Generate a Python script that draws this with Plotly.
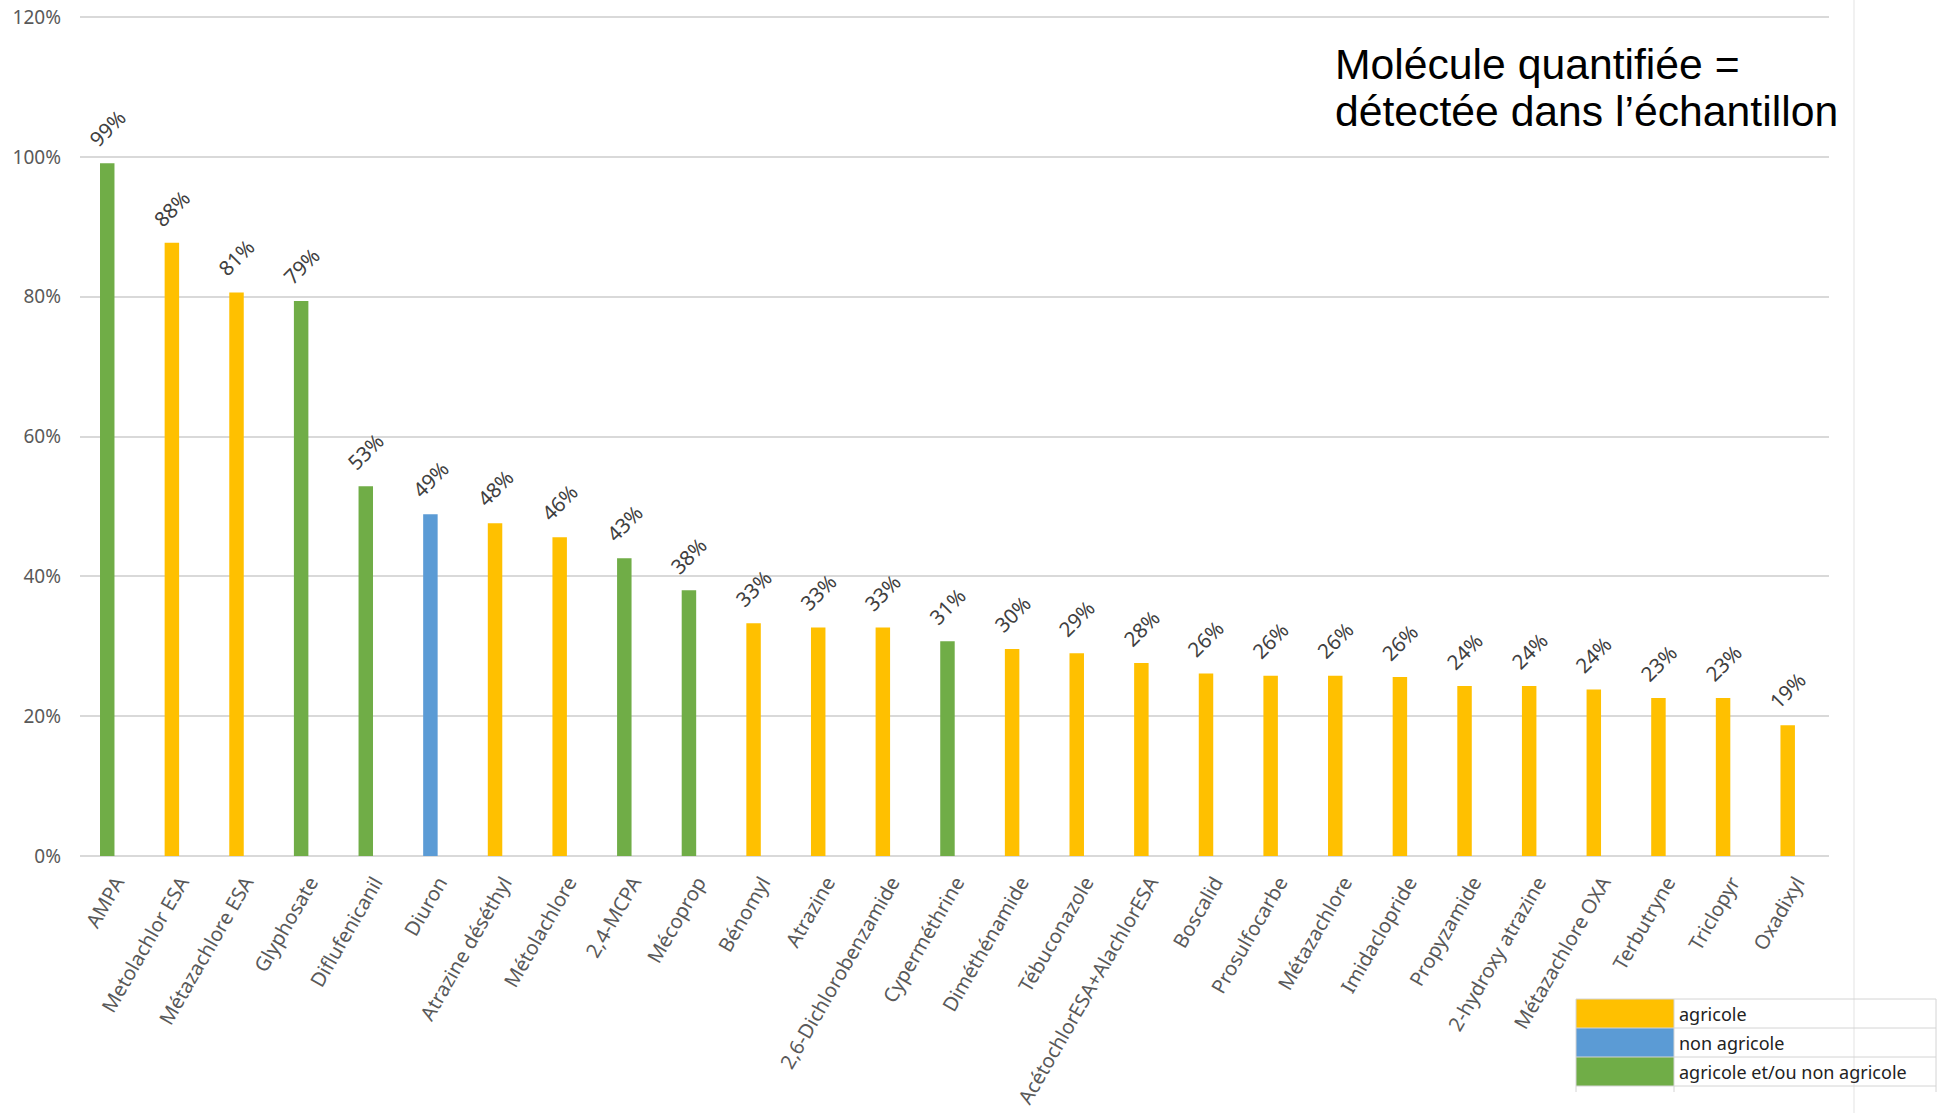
import plotly.graph_objects as go

# ---- data ----
categories = ["AMPA", "Metolachlor ESA", "Métazachlore ESA", "Glyphosate", "Diflufenicanil",
              "Diuron", "Atrazine déséthyl", "Métolachlore", "2,4-MCPA", "Mécoprop",
              "Bénomyl", "Atrazine", "2,6-Dichlorobenzamide", "Cyperméthrine", "Diméthénamide",
              "Tébuconazole", "AcétochlorESA+AlachlorESA", "Boscalid", "Prosulfocarbe", "Métazachlore",
              "Imidaclopride", "Propyzamide", "2-hydroxy atrazine", "Métazachlore OXA", "Terbutryne",
              "Triclopyr", "Oxadixyl"]
values = [0.991, 0.877, 0.806, 0.794, 0.529, 0.489, 0.476, 0.456, 0.426, 0.380,
          0.333, 0.327, 0.327, 0.307, 0.296, 0.290, 0.276, 0.261, 0.258, 0.258,
          0.256, 0.243, 0.243, 0.238, 0.226, 0.226, 0.187]
groups = ["mixte", "agricole", "agricole", "mixte", "mixte",
          "non agricole", "agricole", "agricole", "mixte", "mixte",
          "agricole", "agricole", "agricole", "mixte", "agricole",
          "agricole", "agricole", "agricole", "agricole", "agricole",
          "agricole", "agricole", "agricole", "agricole", "agricole",
          "agricole", "agricole"]
legend_keys = ["agricole", "non agricole", "mixte"]
legend_labels = ["agricole", "non agricole", "agricole et/ou non agricole"]
group_colors = {"agricole": "#FFC000", "non agricole": "#5B9BD5", "mixte": "#70AD47"}
y_ticks = [0, 0.2, 0.4, 0.6, 0.8, 1.0, 1.2]
y_max = 1.2015
title_lines = ["Molécule quantifiée =", "détectée dans l’échantillon"]

# ---- geometry helpers (layout only; body margin removed in the page) ----
W, H = 1938, 1113
ML, MR, MT, MB = 80, 109, 16, 257
PW, PH = W - ML - MR, H - MT - MB
BAR_W = 0.224        # bar width as a fraction of a category slot
BAR_SHIFT_PX = -9    # bars sit slightly left of the slot centre (as in the source)
SLOT_PX = PW / len(categories)


def px_x(px):
    return (px - ML) / PW


def px_y(py):
    return (H - MB - py) / PH


fig = go.Figure()
fig.add_trace(go.Bar(
    x=categories, y=values,
    width=BAR_W, offset=-BAR_W / 2 + BAR_SHIFT_PX / SLOT_PX,
    marker=dict(color=[group_colors[g] for g in groups], line=dict(width=0)),
    hoverinfo="x+y",
))

annotations = []
for c, v in zip(categories, values):
    annotations.append(dict(
        x=c, y=v, xref="x", yref="y", text=f"{v:.0%}", showarrow=False,
        textangle=-45, xanchor="center", yanchor="bottom", yshift=8, xshift=BAR_SHIFT_PX,
        font=dict(family="Noto Sans", size=20.5, color="#404040"),
    ))

# title text (two lines)
for i, line in enumerate(title_lines):
    annotations.append(dict(
        x=px_x(1333), y=px_y(64 + 47 * i), xref="paper", yref="paper",
        text=line, showarrow=False, xanchor="left", yanchor="middle",
        font=dict(family="Liberation Sans", size=42.7, color="#000000"),
    ))

shapes = []
# chart object border at right
shapes.append(dict(type="line", xref="paper", yref="paper",
                   x0=px_x(1854), x1=px_x(1854), y0=px_y(1113), y1=px_y(0),
                   line=dict(color="#ededed", width=1.5)))

# legend table
rows = [999, 1028, 1057, 1086]
sw_x0, sw_x1, tab_x1 = 1576, 1674, 1936
for i, key in enumerate(legend_keys):
    shapes.append(dict(type="rect", xref="paper", yref="paper",
                       x0=px_x(sw_x0), x1=px_x(sw_x1), y0=px_y(rows[i + 1]), y1=px_y(rows[i]),
                       fillcolor=group_colors[key], line=dict(width=0)))
    annotations.append(dict(
        x=px_x(sw_x1 + 3), y=px_y((rows[i] + rows[i + 1]) / 2), xref="paper", yref="paper",
        text=legend_labels[i], showarrow=False, xanchor="left", yanchor="middle",
        font=dict(family="Noto Sans", size=18, color="#222222"),
    ))
for r in rows:
    shapes.append(dict(type="line", xref="paper", yref="paper",
                       x0=px_x(sw_x0), x1=px_x(tab_x1), y0=px_y(r), y1=px_y(r),
                       line=dict(color="#d4d4d4", width=1)))
for xv in (sw_x0, sw_x1, tab_x1):
    shapes.append(dict(type="line", xref="paper", yref="paper",
                       x0=px_x(xv), x1=px_x(xv), y0=px_y(rows[-1] + 6), y1=px_y(rows[0]),
                       line=dict(color="#d4d4d4", width=1)))

fig.update_layout(
    width=W, height=H,
    margin=dict(l=ML, r=MR, t=MT, b=MB, autoexpand=False),
    paper_bgcolor="white", plot_bgcolor="white",
    showlegend=False,
    annotations=annotations, shapes=shapes,
    xaxis=dict(
        type="category", tickangle=-60, automargin=False,
        tickfont=dict(family="Noto Sans", size=20, color="#595959"),
        showgrid=False, showline=False, ticks="", ticklabelstandoff=10,
    ),
    yaxis=dict(
        range=[0, y_max], tickvals=y_ticks, tickformat=".0%", automargin=False,
        tickfont=dict(family="Noto Sans", size=19, color="#595959"),
        showgrid=True, gridcolor="#d9d9d9", gridwidth=1.5,
        zeroline=True, zerolinecolor="#d9d9d9", zerolinewidth=2,
        showline=False, ticks="", ticklabelstandoff=18, ticklabeloverflow="allow",
    ),
)

fig.write_html("out.html", config={"displayModeBar": False},
               post_script="document.body.style.margin='0';")
